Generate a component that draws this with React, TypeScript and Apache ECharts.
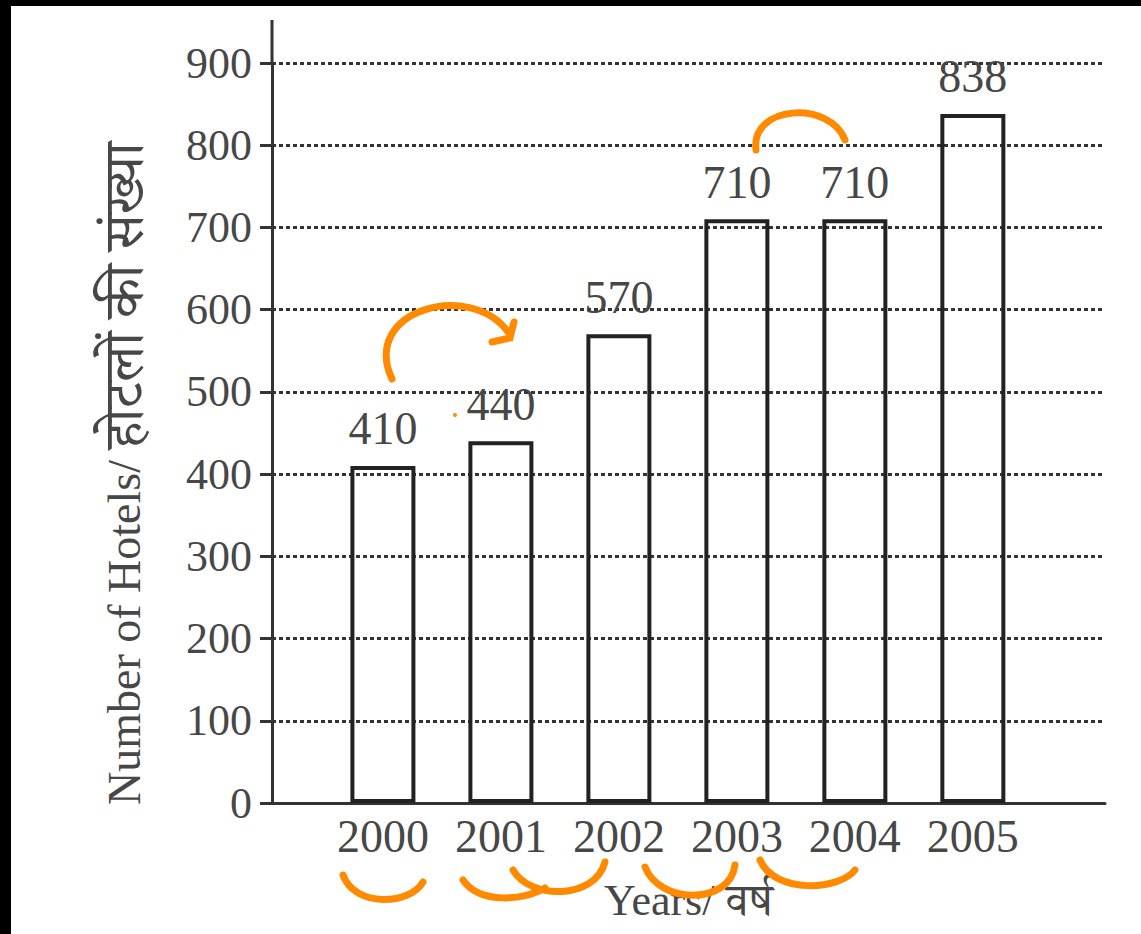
import React, { useEffect, useRef } from "react";
import * as echarts from "echarts";

const years = [2000, 2001, 2002, 2003, 2004, 2005];
const hotels = [410, 440, 570, 710, 710, 838];
const yTicks = [0, 100, 200, 300, 400, 500, 600, 700, 800, 900];
const yTitleEn = "Number of Hotels/ ";
const yTitleHi = "होटलों की संख्या";
const xTitleEn = "Years/ ";
const xTitleHi = "वर्ष";

const SERIF = "'Liberation Serif', 'Noto Serif Devanagari', 'Noto Sans Devanagari', 'Noto Sans', serif";
const TXT = "#474747";
const ORANGE = "#ff8a00";

export default function App() {
  const ref = useRef<HTMLDivElement>(null);
  useEffect(() => {
    if (!ref.current) return;
    const chart = echarts.init(ref.current, null, { renderer: "svg" });
    const stroke = { stroke: ORANGE, lineWidth: 7, fill: "none", lineCap: "round" };
    chart.setOption({
      animation: false,
      backgroundColor: "#ffffff",
      grid: { left: 272, right: 36, top: 63, bottom: 131, outerBoundsMode: "none", containLabel: false },
      xAxis: {
        type: "value",
        min: 1999.06,
        max: 2006.12,
        splitNumber: 7,
        name: `{a|${xTitleEn}}{b|${xTitleHi}}`,
        nameLocation: "middle",
        nameGap: 74,
        nameTextStyle: {
          fontFamily: SERIF,
          fontSize: 44,
          color: TXT,
          rich: {
            a: { fontFamily: SERIF, fontSize: 44, color: TXT },
            b: { fontFamily: SERIF, fontSize: 46, color: TXT },
          },
        },
        axisLine: { show: true, lineStyle: { color: "#333", width: 3 } },
        axisTick: { show: false },
        splitLine: { show: false },
        axisLabel: {
          showMinLabel: false,
          showMaxLabel: false,
          hideOverlap: false,
          margin: 10,
          fontFamily: SERIF,
          fontSize: 46,
          color: TXT,
          formatter: (v: number) => {
            const r = Math.round(v);
            return Math.abs(v - r) < 1e-6 && years.includes(r) ? String(r) : "";
          },
        },
      },
      yAxis: {
        type: "value",
        min: yTicks[0],
        max: yTicks[yTicks.length - 1],
        interval: yTicks[1] - yTicks[0],
        axisLine: { show: true, lineStyle: { color: "#333", width: 3 } },
        axisTick: { show: true, length: 12, lineStyle: { color: "#333", width: 3 } },
        axisLabel: { margin: 20, fontFamily: SERIF, fontSize: 44, color: TXT },
        splitLine: {
          show: true,
          lineStyle: { color: "#333", width: 3, type: [4, 3] },
        },
      },
      series: [
        {
          type: "bar",
          barWidth: 65,
          data: years.map((y, i) => [y, hotels[i]]),
          itemStyle: { color: "rgba(255,255,255,0)", borderColor: "#222", borderWidth: 4 },
          label: {
            show: true,
            position: "top",
            distance: 14,
            fontFamily: SERIF,
            fontSize: 46,
            color: TXT,
            formatter: (p: any) => String(p.value[1]),
          },
          z: 3,
        },
      ],
      graphic: [
        { type: "line", shape: { x1: 272, y1: 20, x2: 272, y2: 63 }, style: { stroke: "#333", lineWidth: 3 } },
        {
          type: "text",
          x: 124,
          y: 805,
          rotation: Math.PI / 2,
          style: {
            text: `{a|${yTitleEn}}{b|${yTitleHi}}`,
            align: "left",
            verticalAlign: "middle",
            rich: {
              a: { fontFamily: SERIF, fontSize: 46, fill: TXT, color: TXT },
              b: { fontFamily: SERIF, fontSize: 56, fill: TXT, color: TXT },
            },
          },
        },
        { type: "rect", shape: { x: 0, y: 0, width: 1141, height: 6 }, style: { fill: "#000" }, z: 100 },
        { type: "rect", shape: { x: 0, y: 0, width: 11, height: 934 }, style: { fill: "#000" }, z: 100 },
        // annotations
        { type: "bezierCurve", shape: { x1: 392, y1: 379, cpx1: 360, cpy1: 310, cpx2: 470, cpy2: 280, x2: 508, y2: 332 }, style: stroke, z: 50 },
        { type: "polyline", shape: { points: [[492, 342], [510, 338], [514, 322]] }, style: stroke, z: 50 },
        { type: "circle", shape: { cx: 455, cy: 415, r: 2 }, style: { fill: ORANGE }, z: 50 },
        { type: "bezierCurve", shape: { x1: 756, y1: 150, cpx1: 750, cpy1: 105, cpx2: 830, cpy2: 100, x2: 845, y2: 140 }, style: stroke, z: 50 },
        { type: "bezierCurve", shape: { x1: 343, y1: 875, cpx1: 355, cpy1: 908, cpx2: 410, cpy2: 905, x2: 423, y2: 882 }, style: stroke, z: 50 },
        { type: "bezierCurve", shape: { x1: 463, y1: 880, cpx1: 480, cpy1: 905, cpx2: 525, cpy2: 900, x2: 545, y2: 888 }, style: stroke, z: 50 },
        { type: "bezierCurve", shape: { x1: 513, y1: 870, cpx1: 530, cpy1: 900, cpx2: 595, cpy2: 900, x2: 605, y2: 862 }, style: stroke, z: 50 },
        { type: "bezierCurve", shape: { x1: 645, y1: 867, cpx1: 660, cpy1: 905, cpx2: 730, cpy2: 905, x2: 735, y2: 865 }, style: stroke, z: 50 },
        { type: "bezierCurve", shape: { x1: 760, y1: 860, cpx1: 775, cpy1: 895, cpx2: 840, cpy2: 890, x2: 855, y2: 870 }, style: stroke, z: 50 },
      ],
    });
    return () => chart.dispose();
  }, []);
  return (
    <div
      ref={ref}
      style={{ position: "absolute", left: 0, top: 0, width: 1141, height: 934 }}
    />
  );
}
